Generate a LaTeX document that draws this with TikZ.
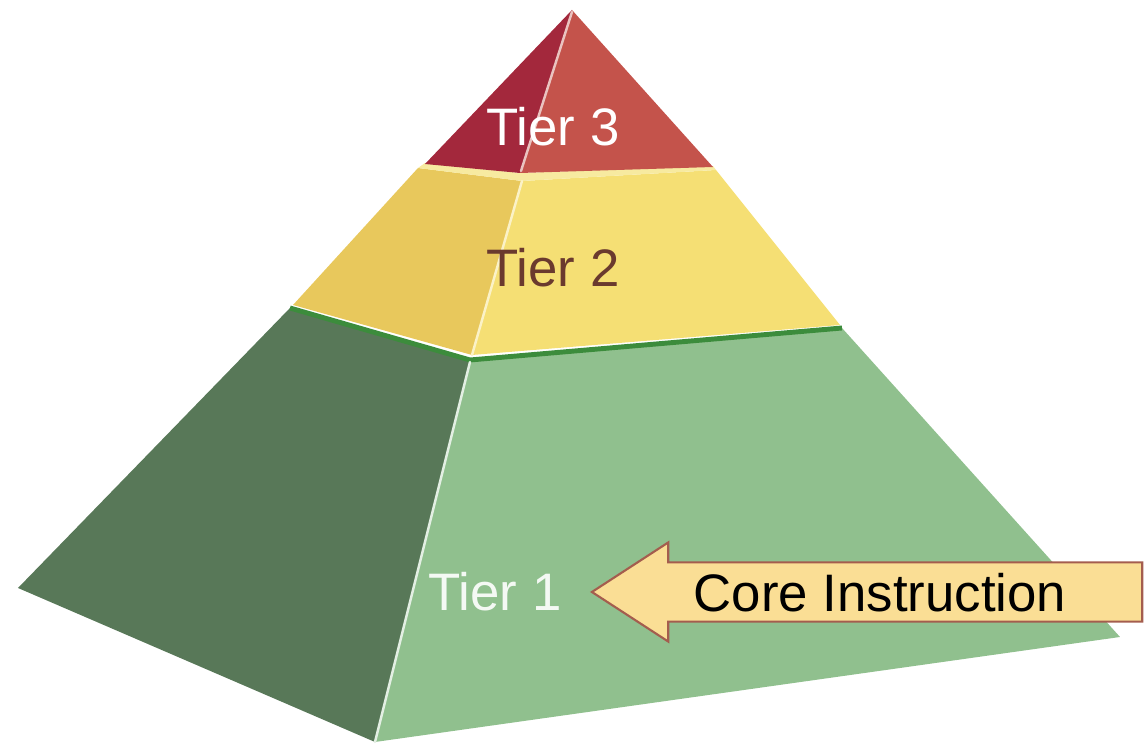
\documentclass[tikz,border=0pt]{standalone}
\usepackage{fontspec}
\setmainfont{Liberation Sans}
\usetikzlibrary{shapes.arrows}

\definecolor{redDark}{HTML}{A3283C}
\definecolor{redLight}{HTML}{C4534B}
\definecolor{yellowDark}{HTML}{E8C85C}
\definecolor{yellowLight}{HTML}{F5DF74}
\definecolor{yellowTop}{HTML}{F7EAA0}
\definecolor{greenDark}{HTML}{587858}
\definecolor{greenLight}{HTML}{90C08E}
\definecolor{greenRim}{HTML}{3C8C3C}
\definecolor{brownText}{HTML}{6A3A2E}
\definecolor{arrowFill}{HTML}{FADE95}
\definecolor{arrowLine}{HTML}{A45D4E}

\tikzset{
  tierlabel/.style={inner sep=0pt, font=\fontsize{15}{18}\selectfont},
  ridge/.style={line width=0.7pt, line cap=round}
}

\begin{document}
\begin{tikzpicture}[x=0.01cm, y=-0.01cm]
\useasboundingbox (0,0) rectangle (1144,746);
\clip (0,0) rectangle (1144,746);

% tier 1
\fill[greenDark] (290,308) -- (470,360) -- (375,742) -- (18,588) -- cycle;
\fill[greenLight] (470,360) -- (842,328) -- (1120,637) -- (375,742) -- cycle;
\draw[greenRim, line width=1.4pt, line join=round] (290,308) -- (470,360) -- (842,328);
\draw[ridge, white!75!greenLight] (470,362) -- (375,742);

% tier 2
\fill[yellowDark] (418,168) -- (522,181) -- (472,355) -- (293,305) -- cycle;
\fill[yellowLight] (522,181) -- (716,170) -- (840,325) -- (472,355) -- cycle;
\fill[yellowTop] (425,163) -- (520,173) -- (713,166) -- (716,170) -- (522,181) -- (418,168) -- cycle;
\draw[ridge, white!60!yellowLight] (522,181) -- (472,355);

% tier 3
\fill[redDark] (572,10) -- (520,173) -- (425,164) -- cycle;
\fill[redLight] (572,10) -- (713,167) -- (520,173) -- cycle;
\draw[ridge, white!65!redLight] (572,12) -- (521,171);

\node[tierlabel, text=white] (T3) at (553,127) {Tier 3};
\node[tierlabel, text=brownText] (T2) at (553,268) {Tier 2};
\node[tierlabel, text=white!90!greenLight] (T1) at (495,592) {Tier 1};

% arrow
\node[single arrow, shape border rotate=180, anchor=tip, draw=arrowLine, line width=0.6pt,
      fill=arrowFill, text height=0.37cm, text depth=0cm, inner ysep=0.1cm, inner xsep=0cm,
      single arrow head extend=0.2cm, single arrow tip angle=66,
      minimum height=5.5cm] (A) at (590,592) {};
\node[tierlabel, text=black] (C) at (880,593) {Core Instruction};
\end{tikzpicture}
\end{document}
